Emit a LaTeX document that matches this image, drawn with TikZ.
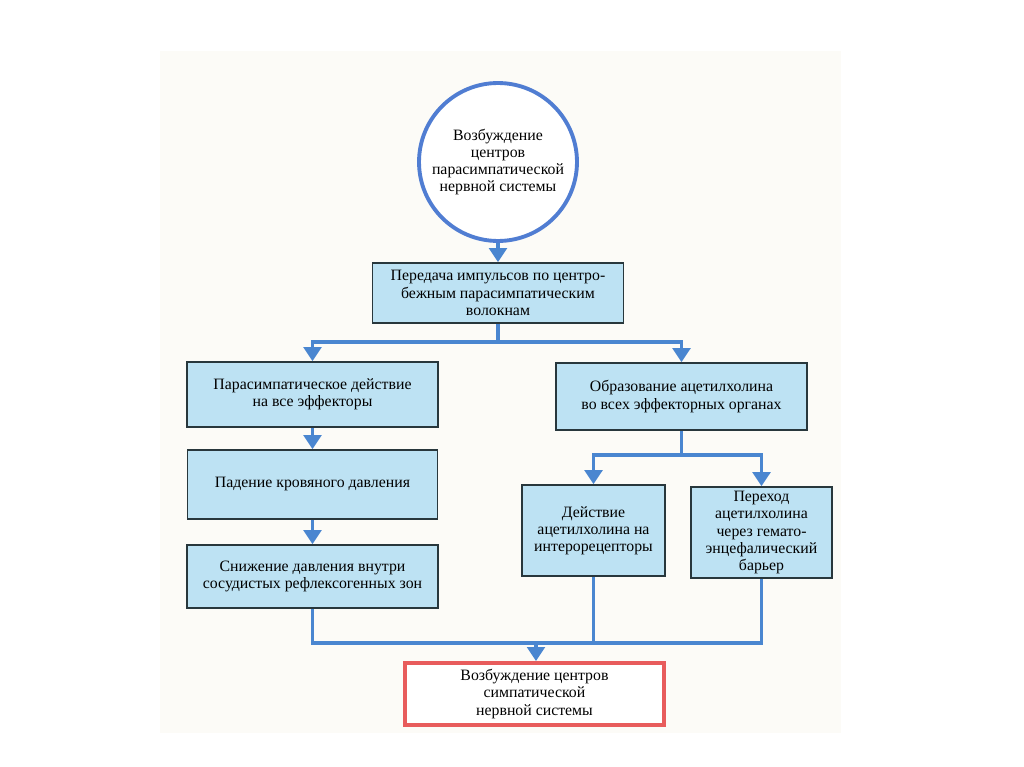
\documentclass[tikz,border=0pt]{standalone}
\usepackage{fontspec}
\setmainfont{Liberation Serif}
\usepackage{tikz}
\usetikzlibrary{arrows.meta}

\definecolor{boxfill}{RGB}{189,226,243}
\definecolor{linkblue}{RGB}{74,134,208}
\definecolor{ringblue}{RGB}{80,125,210}
\definecolor{alarmred}{RGB}{232,92,92}
\definecolor{paper}{RGB}{252,251,247}
\definecolor{frame}{RGB}{40,55,60}

\begin{document}
\begin{tikzpicture}[x=0.02cm, y=-0.02cm, font=\fontsize{9}{9.8}\selectfont]
	\useasboundingbox (0,0) rectangle (1024,767);
	% Define styles
	\tikzstyle{stage}=[rectangle, draw=frame, line width=0.9pt, fill=boxfill, align=center, inner sep=2pt]
	\tikzstyle{start}=[circle, draw=ringblue, line width=2.2pt, fill=white, minimum size=3.16cm, align=center, inner sep=0pt]
	\tikzstyle{finish}=[rectangle, draw=alarmred, line width=2.2pt, fill=white, align=center, minimum width=5.18cm, minimum height=1.24cm]
	\tikzstyle{link}=[draw=linkblue, line width=2pt]
	\tikzstyle{flow}=[link, -{Triangle[width=10pt,length=8pt]}]

	% page of the book
	\fill[paper] (160,51) rectangle (841,733);

	\node[start] (C) at (498,162) {Возбуждение\\центров\\парасимпатической\\нервной системы};
	\node[stage, minimum width=5.02cm, minimum height=1.2cm] (T) at (498,293) {Передача импульсов по центро-\\бежным парасимпатическим\\волокнам};

	% left branch
	\node[stage, minimum width=5.02cm, minimum height=1.3cm] (L1) at (312.5,394.5) {Парасимпатическое действие\\на все эффекторы};
	\node[stage, minimum width=5.0cm, minimum height=1.38cm] (L2) at (312.5,484.5) {Падение кровяного давления};
	\node[stage, minimum width=5.02cm, minimum height=1.26cm] (L3) at (312.5,576.5) {Снижение давления внутри\\сосудистых рефлексогенных зон};

	% right branch
	\node[stage, minimum width=5.02cm, minimum height=1.34cm] (R1) at (681.5,396.5) {Образование ацетилхолина\\во всех эффекторных органах};
	\node[stage, minimum width=2.86cm, minimum height=1.82cm] (R2) at (593.5,530.5) {Действие\\ацетилхолина на\\интерорецепторы};
	\node[stage, minimum width=2.82cm, minimum height=1.82cm] (R3) at (761.5,532.5) {Переход\\ацетилхолина\\через гемато-\\энцефалический\\барьер};

	\node[finish] (F) at (534.5,694) {Возбуждение центров\\симпатической\\нервной системы};

	\coordinate (S) at (498,342);
	\coordinate (Q) at (681.5,455);
	\coordinate (J) at (536,643);

	\draw[flow] (C.south) -- (T.north);
	\draw[flow] (T.south) -- (S) -| (L1.north);
	\draw[flow] (S) -| (R1.north);
	\draw[flow] (L1.south) -- (L2.north);
	\draw[flow] (L2.south) -- (L3.north);
	\draw[flow] (R1.south) -- (Q) -| (R2.north);
	\draw[flow] (Q) -| (R3.north);
	\draw[link] (L3.south) |- (R3.south |- J) -- (R3.south);
	\draw[link] (R2.south) -- (R2.south |- J);
	\draw[flow] (J) -- (J |- F.north);
\end{tikzpicture}
\end{document}
